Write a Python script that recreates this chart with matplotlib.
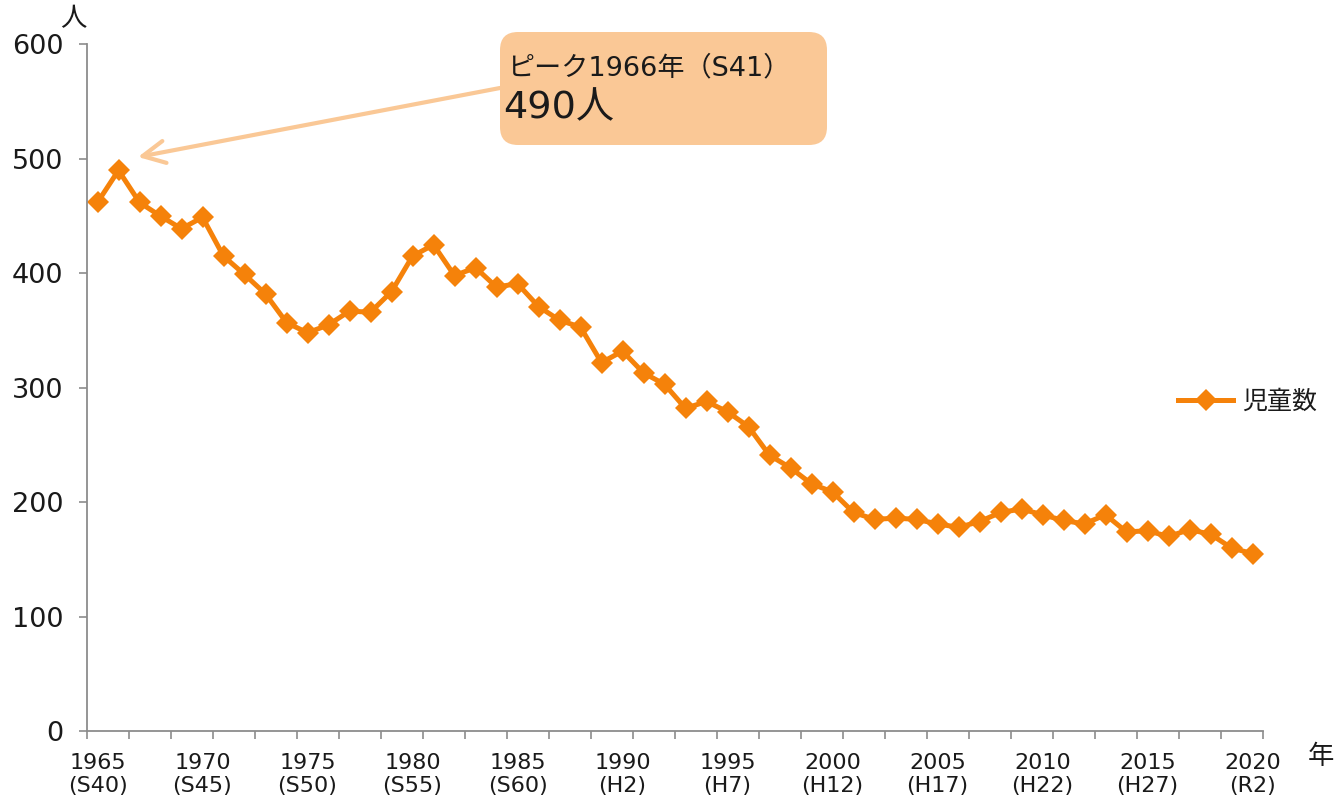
import matplotlib
matplotlib.use("Agg")
import matplotlib.pyplot as plt
from matplotlib.patches import FancyBboxPatch
from matplotlib.ticker import FixedLocator, NullFormatter

plt.rcParams['font.family'] = ['DejaVu Sans', 'Noto Sans CJK JP']

years = list(range(1965, 2021))
children = [462, 490, 462, 450, 439, 449, 415, 399, 382, 357,
            348, 355, 367, 366, 384, 415, 425, 398, 405, 388,
            391, 371, 359, 353, 322, 332, 313, 303, 282, 288,
            279, 266, 241, 230, 216, 209, 191, 185, 186, 185,
            181, 178, 183, 191, 194, 189, 184, 181, 189, 174,
            175, 170, 176, 172, 160, 155]
label_years = [1965, 1970, 1975, 1980, 1985, 1990, 1995, 2000, 2005, 2010, 2015, 2020]
era_labels = ['S40', 'S45', 'S50', 'S55', 'S60', 'H2', 'H7', 'H12', 'H17', 'H22', 'H27', 'R2']
series_name = '児童数'
peak_year = 1966
peak_value = 490
peak_era = 'S41'

W, H = 1337, 796
fig = plt.figure(figsize=(W / 100, H / 100), dpi=100)
ax = fig.add_axes([87 / W, 1 - 731 / H, (1263 - 87) / W, (731 - 44.5) / H])

orange = '#F5820A'
grey = '#8C8C8C'
x = list(range(len(years)))
ax.plot(x, children, color=orange, lw=3.6, marker='D', markersize=11.5,
        markeredgewidth=0, label=series_name, solid_joinstyle='miter')

ax.set_xlim(-0.5, len(years) - 0.5)
ax.set_ylim(0, 600)
ax.set_yticks(range(0, 601, 100))
ax.tick_params(axis='y', direction='out', length=6, width=1.2, color=grey,
               labelsize=19.5, pad=11, labelcolor='#1a1a1a')

pos = [years.index(y) for y in label_years]
ax.set_xticks(pos)
ax.set_xticklabels([f"{y}\n({e})" for y, e in zip(label_years, era_labels)],
                   fontsize=16, linespacing=1.2, color='#1a1a1a')
ax.tick_params(axis='x', which='major', length=0, pad=16)
ax.xaxis.set_minor_locator(FixedLocator([i - 0.5 for i in range(0, len(years) + 1, 2)]))
ax.xaxis.set_minor_formatter(NullFormatter())
ax.tick_params(axis='x', which='minor', direction='out', length=6, width=1.2, color=grey)

for s in ['top', 'right']:
    ax.spines[s].set_visible(False)
for s in ['left', 'bottom']:
    ax.spines[s].set_color(grey)
    ax.spines[s].set_linewidth(1.3)

fig.text(73 / W, 1 - 19 / H, '人', fontsize=19, ha='center', va='center',
         family=['Noto Sans CJK JP'], color='#1a1a1a')
fig.text(1321 / W, 1 - 756 / H, '年', fontsize=19, ha='center', va='center',
         family=['Noto Sans CJK JP'], color='#1a1a1a')

leg = ax.legend(loc='center left', bbox_to_anchor=(1178 / W, 1 - 402 / H),
                bbox_transform=fig.transFigure, frameon=False, borderpad=0,
                borderaxespad=0, handlelength=2.2, handletextpad=0.35,
                prop={'family': ['Noto Sans CJK JP'], 'size': 18})
for t in leg.get_texts():
    t.set_color('#1a1a1a')

peach = '#FAC896'
# arrow from box to the peak
ax.annotate('', xy=(138, H - 157), xycoords='figure pixels',
            xytext=(500, H - 88), textcoords='figure pixels',
            arrowprops=dict(arrowstyle='->,head_length=0.8,head_width=0.4',
                            color=peach, lw=3, mutation_scale=20,
                            shrinkA=0, shrinkB=0))

box = FancyBboxPatch((5.00, (H - 145) / 100), 3.27, 1.13,
                     boxstyle='round,pad=0,rounding_size=0.18',
                     transform=fig.dpi_scale_trans, facecolor=peach,
                     edgecolor='none', zorder=5)
fig.patches.append(box)
fig.text(507 / W, 1 - 68 / H, f'ピーク{peak_year}年（{peak_era}）', fontsize=19.5,
         ha='left', va='center', color='#1a1a1a', zorder=6)
fig.text(503 / W, 1 - 108 / H, f'{peak_value}人', fontsize=27.5,
         ha='left', va='center', color='#1a1a1a', zorder=6)

fig.savefig('out.png', dpi=100)
